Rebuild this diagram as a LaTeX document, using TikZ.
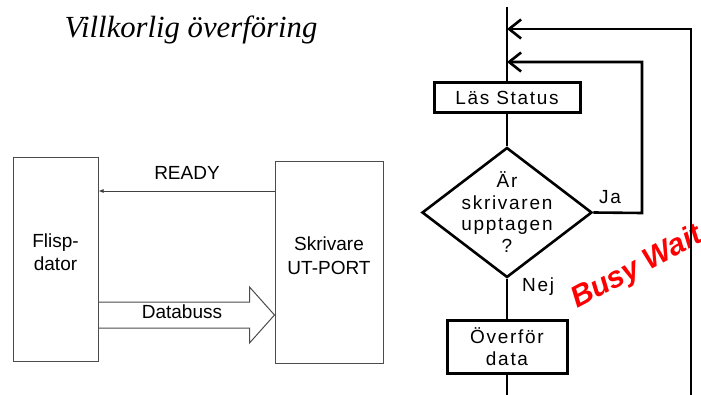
\documentclass[tikz,border=0pt]{standalone}
\usepackage{fontspec}
\setmainfont{Liberation Sans}
\newfontfamily\titlefont{Liberation Serif}
\newfontfamily\flowfont[LetterSpace=9]{Liberation Sans}
\usetikzlibrary{arrows.meta,shapes.geometric,calc}

\tikzset{
  hw/.style={draw=black!70, line width=1pt},
  hwtext/.style={font=\fontsize{19}{23.5}\selectfont, align=center, inner sep=0pt},
  flow/.style={line width=2.6pt},
  flowbox/.style={draw, line width=3pt, inner sep=0pt,
                  font=\flowfont\fontsize{19}{21.5}\selectfont, align=center},
  flowtext/.style={font=\flowfont\fontsize{19}{21.7}\selectfont, align=center, inner sep=0pt},
  back/.style={flow, -{Straight Barb[length=12pt, width=19pt, line width=2.6pt]}},
}

\begin{document}
\begin{tikzpicture}[x=1pt, y=-1pt]
\useasboundingbox (0,0) rectangle (701,395);

% title
\node[font=\titlefont\itshape\fontsize{30.7}{32}\selectfont, anchor=base] (title) at (191,38) {Villkorlig överföring};

% --- hardware: computer and printer port
\node[hw, minimum width=85pt, minimum height=203pt] (flisp) at (55.5,259.5) {};
\node[hw, minimum width=108pt, minimum height=201pt] (port) at (329,262.5) {};
\node[hwtext] (flisptxt) at (55.5,252) {Flisp-\\dator};
\node[hwtext] (porttxt) at (329,255.5) {Skrivare\\UT-PORT};

% READY signal
\coordinate (rdyS) at (port.west |- 0,191);
\coordinate (rdyE) at (flisp.east |- 0,191);
\draw[draw=black!75, line width=0.8pt, -{Latex[length=5pt, width=4pt]}] (rdyS) -- (rdyE);
\node[hwtext] (ready) at (187,173) {READY};

% data bus (wide arrow)
\coordinate (busS) at (flisp.east |- 0,315);
\coordinate (busE) at (port.west |- 0,315);
\draw[hw, line join=miter]
  ($(busS)+(0,-13)$) -- ($(busE)+(-25,-13)$) -- ($(busE)+(-25,-28)$) -- (busE)
  -- ($(busE)+(-25,28)$) -- ($(busE)+(-25,13)$) -- ($(busS)+(0,13)$);
\node[hwtext] (busl) at (182,312) {Databuss};

% --- flowchart
\node[red, font=\bfseries\itshape\fontsize{30}{32}\selectfont, rotate=28, anchor=base west, inner sep=0pt] (busy) at (577,309) {Busy Wait};

\coordinate (top) at (507,7);
\coordinate (ret1) at (507,29);
\coordinate (ret2) at (507,62);
\coordinate (bot) at (507,395);
\node[flowbox, minimum width=146pt, minimum height=30pt] (las) at (507,98) {Läs Status};
\node[draw, diamond, line width=2.6pt, minimum width=170pt, minimum height=130pt, inner sep=0pt] (dia) at (507,212.5) {};
\node[flowtext] (diatxt) at (507,212) {Är\\skrivaren\\upptagen\\?};
\node[flowbox, minimum width=120pt, minimum height=53pt] (over) at (507,346.5) {Överför\\data};

\draw[flow] (top) -- (las.north);
\draw[flow] (las.south) -- (dia.north);
\draw[flow] (dia.south) -- (over.north);
\draw[flow] (over.south) -- (bot);

% loops back to the top
\coordinate (in1) at (642,213);
\coordinate (in2) at (642,62);
\draw[back, line join=miter] (dia.east) -- (in1) -- (in2) -- (ret2);
\coordinate (out1) at (691,395);
\coordinate (out2) at (691,29);
\draw[back, line join=miter] (out1) -- (out2) -- (ret1);

\node[flowtext, anchor=base west] (ja) at (599,204) {Ja};
\node[flowtext, anchor=base west] (nej) at (522,291) {Nej};
\end{tikzpicture}
\end{document}
